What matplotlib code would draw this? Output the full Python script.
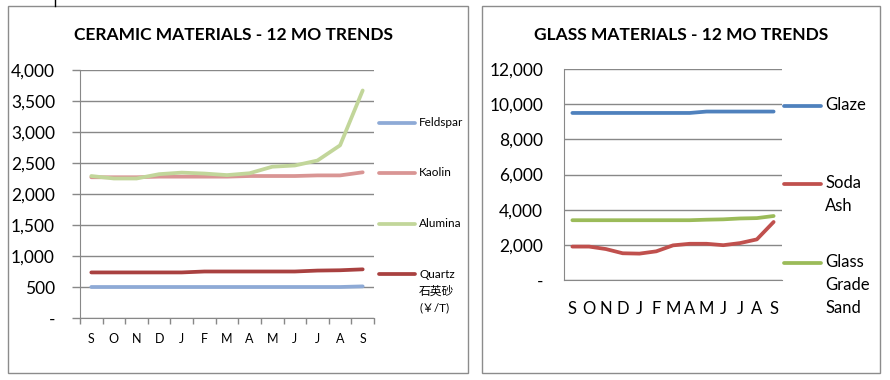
import matplotlib

matplotlib.use("Agg")
import matplotlib.pyplot as plt
from matplotlib.lines import Line2D
from matplotlib.patches import Rectangle
from matplotlib.ticker import FuncFormatter

plt.rcParams["font.family"] = ["Lato", "Noto Sans CJK SC", "DejaVu Sans"]

months = ["S", "O", "N", "D", "J", "F", "M", "A", "M", "J", "J", "A", "S"]

# ceramic materials (left chart)
feldspar = [500, 500, 500, 500, 500, 500, 500, 500, 500, 500, 500, 500, 510]
kaolin = [2270, 2270, 2270, 2280, 2280, 2280, 2280, 2290, 2290, 2290, 2300, 2300, 2350]
alumina = [2290, 2250, 2250, 2320, 2345, 2330, 2305, 2335, 2440, 2460, 2540, 2785, 3670]
quartz = [735, 735, 735, 735, 735, 750, 750, 750, 750, 750, 765, 770, 785]
ceramic_names = [["Feldspar"], ["Kaolin"], ["Alumina"], ["Quartz", "石英砂", "(￥/T)"]]
ceramic_colors = ["#8eaad6", "#d99594", "#c2d69a", "#a94140"]

# glass materials (right chart)
glaze = [9500, 9500, 9500, 9500, 9500, 9500, 9500, 9500, 9580, 9580, 9580, 9580, 9580]
soda_ash = [1900, 1900, 1760, 1520, 1500, 1630, 1970, 2060, 2060, 1980, 2100, 2310, 3300]
glass_sand = [3400, 3400, 3400, 3400, 3400, 3400, 3400, 3400, 3430, 3450, 3500, 3520, 3640]
glass_names = [["Glaze"], ["Soda", "Ash"], ["Glass", "Grade", "Sand"]]
glass_colors = ["#4f81bd", "#c0504d", "#9bbb59"]

W, H = 890, 380
fig = plt.figure(figsize=(W / 100, H / 100), dpi=100)


def fx(px):
    return px / W


def fy(py):
    return 1 - py / H


def fmt(v, _):
    return "-" if v == 0 else f"{int(v):,}"


grid_c = "#888888"

# chart frames
for x0, x1 in [(8, 468), (482, 880)]:
    fig.patches.append(Rectangle((fx(x0), fy(373)), fx(x1 - x0), (373 - 6) / H,
                                 transform=fig.transFigure, fill=False,
                                 edgecolor="#8c8c8c", lw=1.0))
fig.lines.append(Line2D([fx(54.5), fx(54.5)], [fy(0), fy(6)],
                        transform=fig.transFigure, color="black", lw=1))

# ---- left: ceramic
ax1 = fig.add_axes([fx(80), fy(318), fx(374 - 80), (318 - 70) / H])
x = list(range(len(months)))
for vals, c in zip([feldspar, kaolin, alumina, quartz], ceramic_colors):
    ax1.plot(x, vals, color=c, lw=2.7, solid_capstyle="round")
ax1.set_xlim(-0.5, len(months) - 0.5)
ax1.set_ylim(0, 4000)
ax1.set_yticks(range(0, 4001, 500))
ax1.yaxis.set_major_formatter(FuncFormatter(fmt))
ax1.set_xticks(x)
ax1.set_xticklabels(months, fontsize=9)
ax1.set_xticks([i - 0.5 for i in range(len(months) + 1)], minor=True)
ax1.tick_params(axis="x", which="major", length=0, pad=11)
ax1.tick_params(axis="x", which="minor", length=4, color=grid_c, width=1)
ax1.tick_params(axis="y", length=6, color=grid_c, width=1, labelsize=12.5, pad=12)
ax1.grid(axis="y", color=grid_c, lw=1)
ax1.set_axisbelow(True)
for s in ["top", "right"]:
    ax1.spines[s].set_visible(False)
for s in ["left", "bottom"]:
    ax1.spines[s].set_color(grid_c)
ax1.set_title("CERAMIC MATERIALS - 12 MO TRENDS", fontsize=12.5, fontweight="bold",
              x=(234 - 80) / (374 - 80), y=1.0, pad=21.5)

for names, c, py in zip(ceramic_names, ceramic_colors, [123, 173, 224, 274]):
    fig.lines.append(Line2D([fx(379), fx(415)], [fy(py), fy(py)],
                            transform=fig.transFigure, color=c, lw=2.7,
                            solid_capstyle="round"))
    for i, name in enumerate(names):
        fig.text(fx(419), fy(py + 17 * i), name, fontsize=8.5,
                 va="center", ha="left")

# ---- right: glass
ax2 = fig.add_axes([fx(564), fy(280), fx(782 - 564), (280 - 69) / H])
for vals, c in zip([glaze, soda_ash, glass_sand], glass_colors):
    ax2.plot(x, vals, color=c, lw=2.7, solid_capstyle="round")
ax2.set_xlim(-0.5, len(months) - 0.5)
ax2.set_ylim(0, 12000)
ax2.set_yticks(range(0, 12001, 2000))
ax2.yaxis.set_major_formatter(FuncFormatter(fmt))
ax2.set_xticks(x)
ax2.set_xticklabels(months, fontsize=12)
ax2.tick_params(axis="x", length=0, pad=15)
ax2.tick_params(axis="y", length=0, labelsize=12.5, pad=15)
ax2.grid(axis="y", color=grid_c, lw=1)
ax2.set_axisbelow(True)
for s in ["top", "right"]:
    ax2.spines[s].set_visible(False)
for s in ["left", "bottom"]:
    ax2.spines[s].set_color(grid_c)
ax2.set_title("GLASS MATERIALS - 12 MO TRENDS", fontsize=12.5, fontweight="bold",
              x=(681 - 564) / (782 - 564), y=1.0, pad=21)

for names, c, py in zip(glass_names, glass_colors, [106, 184, 263]):
    fig.lines.append(Line2D([fx(784), fx(821)], [fy(py), fy(py)],
                            transform=fig.transFigure, color=c, lw=2.7,
                            solid_capstyle="round"))
    for i, name in enumerate(names):
        fig.text(fx(825), fy(py - 1 + 23 * i), name, fontsize=12,
                 va="center", ha="left")

fig.savefig("out.png", dpi=100)
